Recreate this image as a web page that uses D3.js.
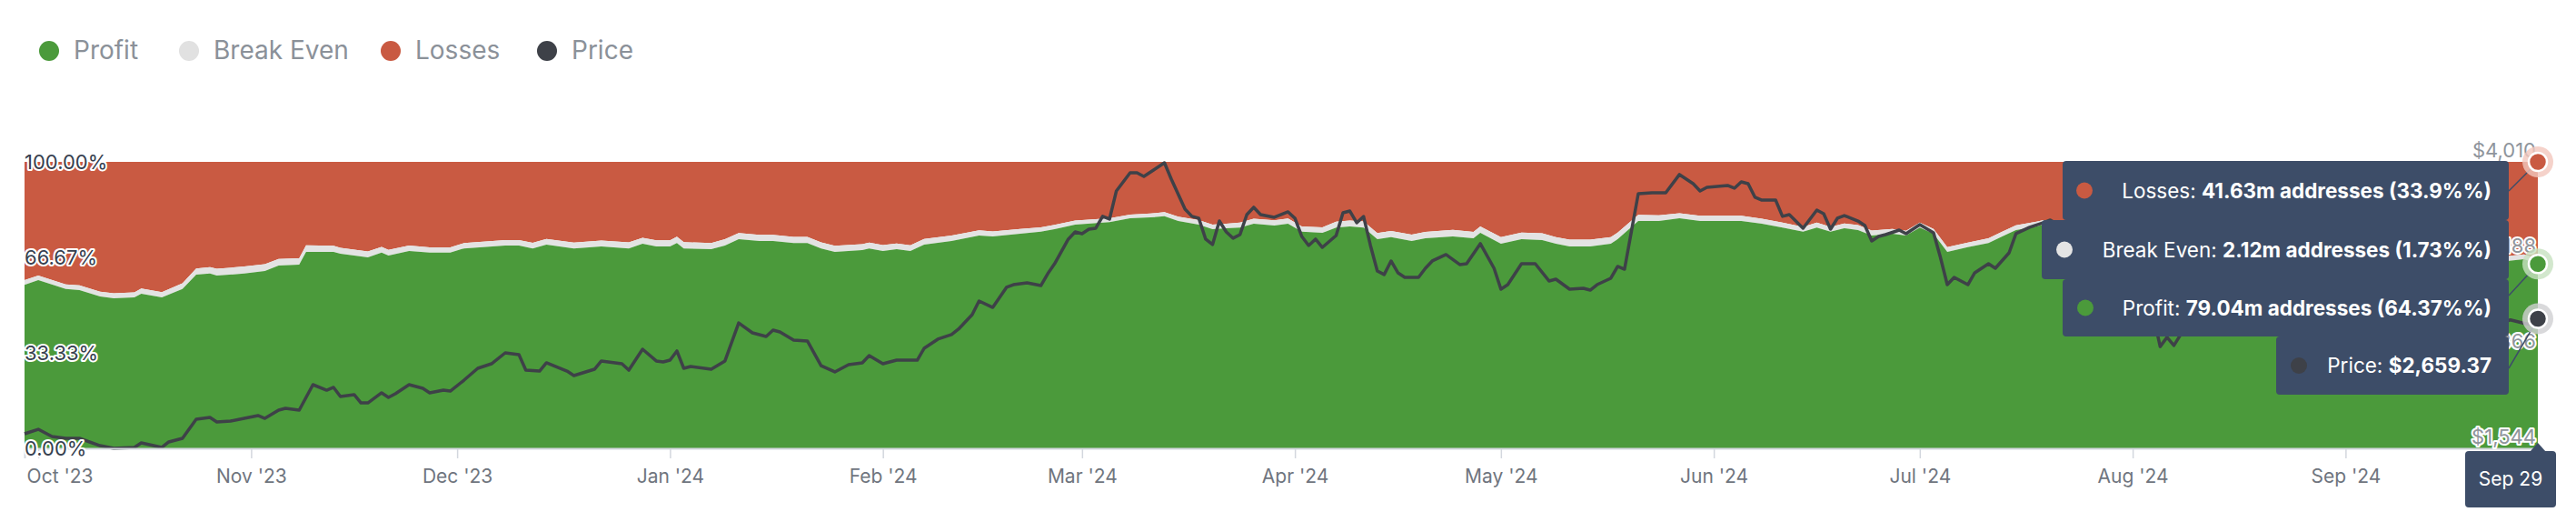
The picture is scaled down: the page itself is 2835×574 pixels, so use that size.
<!DOCTYPE html>
<html><head><meta charset="utf-8">
<script src="https://cdn.jsdelivr.net/npm/d3@7"></script>
<style>body{margin:0;background:#fff;font-family:Inter,"Noto Sans",sans-serif}</style>
</head><body><svg id="c" width="2835" height="574"></svg>
<script>
const startDate = "2023-09-29";
// price samples: day offset from startDate, USD
const priceDays = [0,2,4,6,8,11,13,16,17,20,21,23,25,27,28,30,32,34,35,37,38,40,42,44,45,46,48,49,50,52,53,54,56,58,59,61,62,64,66,68,70,72,73,75,76,79,80,83,84,87,88,90,92,93,94,95,96,97,100,102,104,106,108,109,110,112,114,116,118,120,122,123,125,127,130,131,133,135,136,138,139,141,143,144,146,148,149,150,152,153,154,155,156,157,158,159,161,162,163,166,167,169,170,171,172,173,174,175,176,177,178,179,180,182,184,185,186,187,188,189,191,192,193,194,195,196,197,198,199,200,201,203,204,205,207,209,210,212,214,215,216,218,220,222,223,225,227,228,229,231,232,233,235,237,239,241,243,244,245,248,249,250,251,252,253,255,256,257,259,261,262,263,264,265,267,268,269,270,271,273,274,276,278,279,280,281,283,284,286,287,289,290,292,294,295,297,299,301,303,305,307,309,310,311,312,313,315,318,321,324,327,330,333,336,339,342,345,348,351,354,357,360,362,364,366];
const priceValues = [1669,1708,1646,1630,1630,1567,1544,1552,1591,1552,1599,1630,1795,1810,1771,1779,1802,1826,1802,1873,1888,1873,2092,2045,2069,1990,2006,1935,1935,2022,1982,2014,2092,2061,2022,2045,2037,2131,2233,2272,2366,2350,2217,2209,2280,2209,2170,2225,2296,2272,2217,2397,2296,2288,2303,2382,2233,2249,2225,2296,2624,2538,2507,2562,2546,2476,2468,2256,2202,2264,2280,2343,2272,2303,2303,2405,2484,2523,2570,2695,2812,2757,2930,2953,2969,2945,3047,3133,3345,3407,3392,3431,3439,3541,3517,3760,3916,3916,3885,4002,3861,3603,3541,3525,3345,3298,3501,3407,3353,3384,3556,3619,3556,3533,3580,3525,3368,3290,3345,3274,3376,3572,3587,3486,3540,3290,3071,3040,3157,3055,3016,3016,3094,3157,3212,3126,3133,3306,3094,2914,2953,3133,3133,2985,3000,2914,2922,2906,2953,3008,3110,3086,3736,3744,3744,3901,3822,3760,3791,3807,3783,3838,3822,3705,3681,3681,3541,3556,3439,3595,3564,3431,3525,3548,3501,3462,3329,3368,3384,3423,3392,3470,3400,3188,2953,3016,2953,3055,3133,3094,3227,3392,3447,3486,3509,3440,3430,3250,3280,3270,3200,2990,2690,2420,2500,2430,2620,2660,2600,2640,2580,2720,2470,2520,2440,2300,2350,2380,2300,2370,2470,2600,2650,2620,2600,2659];
// profit share (%) samples
const profitDays = [0,2,6,8,11,13,16,17,20,23,25,27,28,32,35,37,40,41,45,46,50,52,53,56,59,62,64,70,72,74,76,80,84,88,90,92,94,95,96,100,102,104,107,109,112,114,116,118,122,123,125,127,129,131,135,139,141,145,148,150,153,158,161,164,166,168,171,173,175,177,179,182,184,186,189,191,193,195,197,199,202,204,208,211,212,215,218,221,223,225,228,231,232,235,238,241,244,250,253,256,259,261,263,265,267,269,272,274,276,278,280,283,286,288,290,293,294,297,300,303,307,310,311,313,316,320,324,330,333,338,343,347,352,356,360,364,366];
const profitValues = [57.1,58.7,55.6,55.2,53.0,52.4,52.7,54.0,52.7,55.6,60.6,61.0,60.3,61.0,61.9,63.8,64.1,68.6,68.6,67.9,66.7,68.3,67.3,68.9,68.3,68.3,69.8,70.8,70.8,69.8,71.1,69.8,70.5,69.8,71.4,70.5,70.5,71.7,69.8,69.5,70.8,73.0,72.4,72.4,71.7,71.7,69.8,68.6,69.2,69.8,68.9,69.5,68.9,71.1,72.4,74.3,74.0,74.9,75.6,76.5,78.1,79.0,80.3,80.6,81.0,79.4,78.1,76.5,76.8,77.1,78.4,77.8,78.4,75.6,75.2,77.1,77.5,77.1,73.0,73.7,72.4,73.3,74.0,73.3,75.2,71.4,73.0,72.7,71.4,70.5,70.5,71.4,73.0,79.4,79.4,80.3,79.4,79.4,78.4,77.1,75.6,77.1,75.6,76.8,76.2,74.3,74.9,74.3,77.1,74.9,68.6,70.2,71.7,74.0,76.2,77.5,78.1,77.0,75.0,74.0,72.0,62.0,58.0,60.0,66.0,64.0,65.0,68.0,63.0,61.0,57.0,59.0,57.0,61.0,65.0,66.0,64.37];
// break even share (%) samples
const beDays = [0,20,30,60,100,130,160,200,230,240,300,366];
const beValues = [1.6,1.8,2.5,1.8,2.2,2.0,1.3,2.2,2.4,1.8,1.6,1.73];
const pctTicks = [0,33.33,66.67,100];
const priceTicks = [1544,2366,3188,4010];
const monthTicks = ["2023-10-01","2023-11-01","2023-12-01","2024-01-01","2024-02-01","2024-03-01","2024-04-01","2024-05-01","2024-06-01","2024-07-01","2024-08-01","2024-09-01"];
const legendNames = ["Profit","Break Even","Losses","Price"];
const tooltipRows = [["Losses: ","41.63m addresses (33.9%%)"],["Break Even: ","2.12m addresses (1.73%%)"],["Profit: ","79.04m addresses (64.37%%)"],["Price: ","$2,659.37"]];
const hoverProfit = 64.37, hoverPrice = 2659.37;
const hoverLabel = "Sep 29";

const C = {green:"#4b9a3b", gray:"#e3e3e3", red:"#c95a42", dark:"#3e4148", navy:"#3d4d68"};
const colors = [C.green, "#e1e1e1", C.red, C.dark];
const svg = d3.select("#c");
const L=27, R=2793, T=178, B=493;
const t0 = d3.timeParse("%Y-%m-%d")(startDate);
const day = d => d3.timeDay.offset(t0, d);
const x = d3.scaleTime().domain([day(0), day(366)]).range([L,R]);
const y = d3.scaleLinear().domain([0,100]).range([B,T]);
const yp = d3.scaleLinear().domain([1544,4010]).range([B,T]);
const beInterp = d3.scaleLinear().domain(beDays).range(beValues);

const rows = profitDays.map((d,i)=>({d:day(d), p:profitValues[i], b:profitValues[i]+beInterp(d)}));
svg.append("path").datum(rows).attr("fill",C.red)
  .attr("d", d3.area().x(r=>x(r.d)).y0(y(100)).y1(r=>y(r.b)));
svg.append("path").datum(rows).attr("fill",C.gray)
  .attr("d", d3.area().x(r=>x(r.d)).y0(r=>y(r.b)).y1(r=>y(r.p)));
svg.append("path").datum(rows).attr("fill",C.green)
  .attr("d", d3.area().x(r=>x(r.d)).y0(y(0)).y1(r=>y(r.p)));
const prices = priceDays.map((d,i)=>({d:day(d), v:priceValues[i]}));
svg.append("path").datum(prices).attr("fill","none").attr("stroke",C.dark).attr("stroke-width",3.5)
  .attr("stroke-linejoin","round").attr("d", d3.line().x(r=>x(r.d)).y(r=>yp(r.v)));

// x axis
const xa = svg.append("g").attr("transform",`translate(0,${B})`)
  .call(d3.axisBottom(x).tickValues(monthTicks.map(d3.timeParse("%Y-%m-%d"))).tickFormat(d3.timeFormat("%b '%y")).tickSize(11).tickPadding(12));
xa.select(".domain").attr("stroke","#d3d7de").attr("stroke-width",2);
xa.selectAll(".tick line").attr("stroke","#d3d7de").attr("stroke-width",1.5);
xa.selectAll("text").attr("font-family","Inter").attr("font-size",21).attr("fill","#6f757e");
xa.select(".tick text").attr("text-anchor","start").attr("x",-13);

// y labels with halo
pctTicks.forEach(v=>{
  svg.append("text").attr("x",L).attr("y",y(v)+8).text(v.toFixed(2)+"%")
    .attr("font-size",22).attr("fill","#36404f").attr("stroke","#fff").attr("stroke-width",4)
    .attr("paint-order","stroke").attr("stroke-linejoin","round");
});
priceTicks.forEach((v,i)=>{
  const t = svg.append("text").attr("x",R-2).attr("y",yp(v)-5).attr("text-anchor","end")
    .text("$"+d3.format(",")(v)).attr("font-size",22).attr("fill","#8f959c");
  if(i<3) t.attr("stroke","#fff").attr("stroke-width",4).attr("paint-order","stroke").attr("stroke-linejoin","round");
});

// legend
const lx=[54,208,430,602];
legendNames.forEach((n,i)=>{
  svg.append("circle").attr("cx",lx[i]).attr("cy",56).attr("r",11).attr("fill",colors[i]);
  svg.append("text").attr("x",lx[i]+27).attr("y",65).text(n).attr("font-size",28).attr("fill","#8b9199");
});

// hover points
const hp=[[y(100),C.red,"#f3c7bd",210],[y(hoverProfit),C.green,"#c7e1c0",325],[yp(hoverPrice),C.dark,"#cfd0d2",405]];
hp.forEach(h=>{
  svg.append("line").attr("x1",2761).attr("y1",h[3]).attr("x2",R).attr("y2",h[0]).attr("stroke",C.navy).attr("stroke-width",1.5);
  svg.append("circle").attr("cx",R).attr("cy",h[0]).attr("r",17).attr("fill",h[2]).attr("opacity",0.8);
  svg.append("circle").attr("cx",R).attr("cy",h[0]).attr("r",10).attr("fill",h[1]).attr("stroke","#fff").attr("stroke-width",2.5);
});

// tooltip
const boxes=[[2270,177,242],[2247,242,307],[2270,307,370],[2505,370,434]];
const dotX=[2294,2272,2295,2530];
const tipCol=[C.red,"#e4e4e4",C.green,C.dark];
boxes.forEach(b=>svg.append("rect").attr("x",b[0]).attr("y",b[1]).attr("width",2761-b[0]).attr("height",b[2]-b[1]).attr("fill",C.navy).attr("rx",4));
tooltipRows.forEach((r,i)=>{
  const cy=(boxes[i][1]+boxes[i][2])/2;
  svg.append("circle").attr("cx",dotX[i]).attr("cy",cy).attr("r",9).attr("fill",tipCol[i]);
  const t=svg.append("text").attr("x",2742).attr("y",cy+8).attr("text-anchor","end").attr("font-size",22.5).attr("fill","#fff");
  t.append("tspan").text(r[0]);
  t.append("tspan").attr("font-weight",700).text(r[1]);
});
// date label
svg.append("rect").attr("x",2713).attr("y",496).attr("width",100).attr("height",62).attr("rx",4).attr("fill",C.navy);
svg.append("path").attr("d",`M${R-9},497 L${R},487 L${R+9},497 Z`).attr("fill",C.navy);
svg.append("text").attr("x",2763).attr("y",534).attr("text-anchor","middle").attr("font-size",21).attr("fill","#fff").text(hoverLabel);
</script></body></html>
